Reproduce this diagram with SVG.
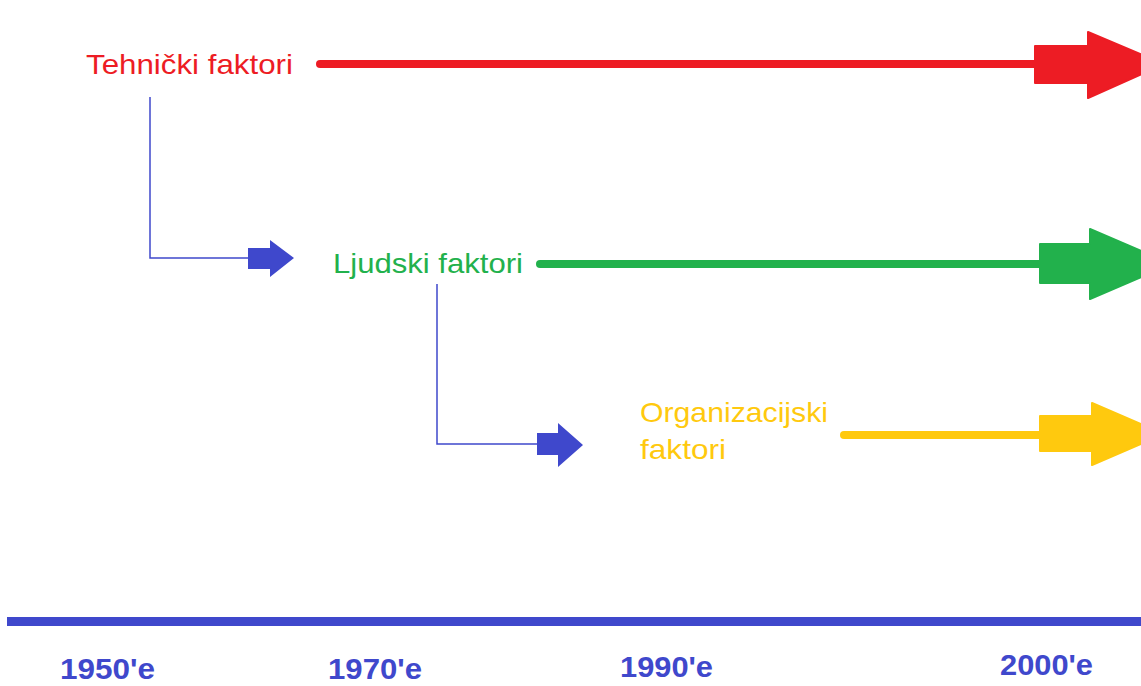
<svg xmlns="http://www.w3.org/2000/svg" width="1141" height="686" viewBox="0 0 1141 686">
<style>
.lbl{font-family:"Liberation Sans",Arial,sans-serif;font-size:28px}
.yr{font-family:"Liberation Sans",Arial,sans-serif;font-size:29px;font-weight:bold;fill:#3F48CC}
.conn{fill:none;stroke:#3F48CC;stroke-width:1.5}
.blue{fill:#3F48CC}
</style>
<rect width="1141" height="686" fill="#fff"/>
<g id="tehnicki">
<text class="lbl" x="86" y="74" fill="#ED1C24" textLength="207" lengthAdjust="spacingAndGlyphs">Tehnički faktori</text>
<line x1="320" y1="64" x2="1040" y2="64" stroke="#ED1C24" stroke-width="8" stroke-linecap="round"/>
<polygon points="1035,46 1088,46 1088,32 1164,64 1088,98 1088,83 1035,83" fill="#ED1C24" stroke="#ED1C24" stroke-width="2" stroke-linejoin="round"/>
</g>
<g id="ljudski">
<text class="lbl" x="333" y="273" fill="#22B14C" textLength="190" lengthAdjust="spacingAndGlyphs">Ljudski faktori</text>
<line x1="540" y1="264" x2="1045" y2="264" stroke="#22B14C" stroke-width="8" stroke-linecap="round"/>
<polygon points="1040,244 1090,244 1090,229 1172,264 1090,299 1090,283 1040,283" fill="#22B14C" stroke="#22B14C" stroke-width="2" stroke-linejoin="round"/>
</g>
<g id="organizacijski">
<text class="lbl" x="640" y="422" fill="#FFC90E" textLength="188" lengthAdjust="spacingAndGlyphs">Organizacijski</text>
<text class="lbl" x="640" y="459" fill="#FFC90E" textLength="86" lengthAdjust="spacingAndGlyphs">faktori</text>
<line x1="844" y1="435" x2="1045" y2="435" stroke="#FFC90E" stroke-width="8" stroke-linecap="round"/>
<polygon points="1040,416 1092,416 1092,403 1164,434 1092,465 1092,451 1040,451" fill="#FFC90E" stroke="#FFC90E" stroke-width="2" stroke-linejoin="round"/>
</g>
<g id="connectors">
<polyline class="conn" points="150,97 150,258 250,258"/>
<polygon class="blue" points="248,248 270,248 270,240 294,258 270,277 270,269 248,269"/>
<polyline class="conn" points="437,284 437,444 538,444"/>
<polygon class="blue" points="537,433 558,433 558,423 583,445 558,467 558,455 537,455"/>
</g>
<g id="timeline">
<rect x="7" y="617" width="1134" height="9" fill="#3F48CC"/>
<text class="yr" x="60" y="679" textLength="95" lengthAdjust="spacingAndGlyphs">1950'e</text>
<text class="yr" x="328" y="679" textLength="94" lengthAdjust="spacingAndGlyphs">1970'e</text>
<text class="yr" x="620" y="677" textLength="93" lengthAdjust="spacingAndGlyphs">1990'e</text>
<text class="yr" x="1000" y="675" textLength="93" lengthAdjust="spacingAndGlyphs">2000'e</text>
</g>
</svg>
